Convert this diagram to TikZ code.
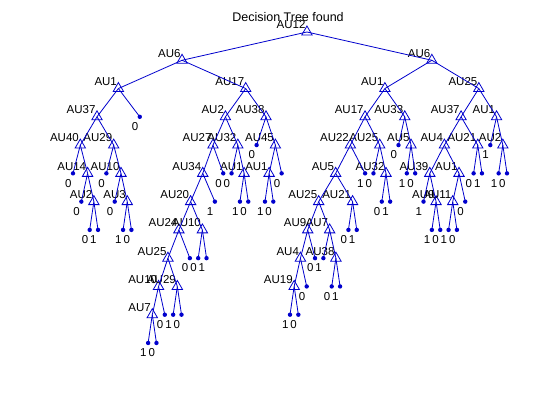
\documentclass[tikz,border=0pt]{standalone}
\usepackage{fontspec}
\setmainfont{Liberation Sans}
\usetikzlibrary{shapes.geometric}

\definecolor{treeblue}{RGB}{0,0,205}
\newcommand\labfont{\fontsize{11.5bp}{13bp}\selectfont}
\newcommand\titlefont{\fontsize{12.5bp}{14bp}\selectfont}

\tikzset{
  branch/.style={treeblue, line width=0.8bp},
  test/.style={regular polygon, regular polygon sides=3, draw=treeblue,
    line width=0.8bp, minimum size=12bp, inner sep=0pt, outer sep=0pt,
    label={[anchor=south east, xshift=-1.5bp, yshift=-3bp]90:#1}},
  leaf/.style={circle, fill=treeblue, minimum size=4.4bp, inner sep=0pt,
    outer sep=0pt, label={[anchor=north east, xshift=-1.5bp, yshift=-3.6bp]270:#1}},
  every label/.style={font=\labfont, inner sep=0pt, outer sep=0pt, text=black}
}

\begin{document}
\begin{tikzpicture}[x=8.346bp,y=-28.27bp]

\useasboundingbox[fill=white] (-73bp,32bp) rectangle (487bp,-388bp);

\node[font=\titlefont, anchor=base] (title) at (215bp,11bp) {Decision Tree found};

% tests: number / leaf index / depth / attribute
\foreach \n/\x/\d/\t in {1/28.032/0/AU12, 2/13.065/1/AU6, 3/5.438/2/AU1,
  4/2.875/3/AU37, 5/0.875/4/AU40, 6/1.75/5/AU14, 7/2.5/6/AU2, 8/4.875/4/AU29,
  9/5.75/5/AU10, 10/6.5/6/AU3, 11/20.693/2/AU17, 12/18.262/3/AU2,
  13/16.773/4/AU27, 14/15.547/5/AU34, 15/14.094/6/AU20, 16/12.688/7/AU24,
  17/11.375/8/AU25, 18/10.25/9/AU10, 19/9.5/10/AU7, 20/12.5/9/AU29,
  21/15.5/7/AU10, 22/19.75/4/AU32, 23/20.5/5/AU1, 24/23.125/3/AU38,
  25/24.25/4/AU45, 26/23.5/5/AU1, 27/42.998/1/AU6, 28/37.371/2/AU1,
  29/34.992/3/AU17, 30/33.234/4/AU22, 31/31.469/5/AU5, 32/29.438/6/AU25,
  33/28.125/7/AU9, 34/27.25/8/AU4, 35/26.5/9/AU19, 36/30.75/7/AU7,
  37/31.5/8/AU38, 38/33.5/6/AU21, 39/36.75/4/AU25, 40/37.5/5/AU32,
  41/39.75/3/AU33, 42/40.5/4/AU5, 43/48.625/2/AU25, 44/46.5/3/AU37,
  45/44.5/4/AU4, 46/42.75/5/AU39, 47/43.5/6/AU9, 48/46.25/5/AU1,
  49/45.5/6/AU11, 50/48.5/4/AU21, 51/50.75/3/AU1, 52/51.5/4/AU2}
  \node[test=\t] (n\n) at (\x,\d) {};

% leaves: index / depth / class
\foreach \k/\d/\t in {0/5/0, 1/6/0, 2/7/0, 3/7/1, 4/5/0, 5/6/0, 6/7/1, 7/7/0,
  8/3/0, 9/11/1, 10/11/0, 11/10/0, 12/10/1, 13/10/0, 14/8/0, 15/8/0, 16/8/1,
  17/6/1, 18/5/0, 19/5/0, 20/6/1, 21/6/0, 22/4/0, 23/6/1, 24/6/0, 25/5/0,
  26/10/1, 27/10/0, 28/9/0, 29/8/0, 30/8/1, 31/9/0, 32/9/1, 33/7/0, 34/7/1,
  35/5/1, 36/5/0, 37/6/0, 38/6/1, 39/4/0, 40/5/1, 41/5/0, 42/6/1, 43/7/1,
  44/7/0, 45/7/1, 46/7/0, 47/6/0, 48/5/0, 49/5/1, 50/4/1, 51/5/1, 52/5/0}
  \node[leaf=\t] (l\k) at (\k,\d) {};

\foreach \a/\b in {n1/n2, n1/n27, n2/n3, n2/n11, n3/n4, n3/l8, n4/n5, n4/n8,
  n5/l0, n5/n6, n6/l1, n6/n7, n7/l2, n7/l3, n8/l4, n8/n9, n9/l5, n9/n10,
  n10/l6, n10/l7, n11/n12, n11/n24, n12/n13, n12/n22, n13/n14, n13/l18,
  n14/n15, n14/l17, n15/n16, n15/n21, n16/n17, n16/l14, n17/n18, n17/n20,
  n18/n19, n18/l11, n19/l9, n19/l10, n20/l12, n20/l13, n21/l15, n21/l16,
  n22/l19, n22/n23, n23/l20, n23/l21, n24/l22, n24/n25, n25/n26, n25/l25,
  n26/l23, n26/l24, n27/n28, n27/n43, n28/n29, n28/n41, n29/n30, n29/n39,
  n30/n31, n30/l35, n31/n32, n31/n38, n32/n33, n32/n36, n33/n34, n33/l29,
  n34/n35, n34/l28, n35/l26, n35/l27, n36/l30, n36/n37, n37/l31, n37/l32,
  n38/l33, n38/l34, n39/l36, n39/n40, n40/l37, n40/l38, n41/l39, n41/n42,
  n42/l40, n42/l41, n43/n44, n43/n51, n44/n45, n44/n50, n45/n46, n45/n48,
  n46/l42, n46/n47, n47/l43, n47/l44, n48/n49, n48/l47, n49/l45, n49/l46,
  n50/l48, n50/l49, n51/l50, n51/n52, n52/l51, n52/l52}
  \draw[branch] (\a.center) -- (\b.center);

\end{tikzpicture}
\end{document}
